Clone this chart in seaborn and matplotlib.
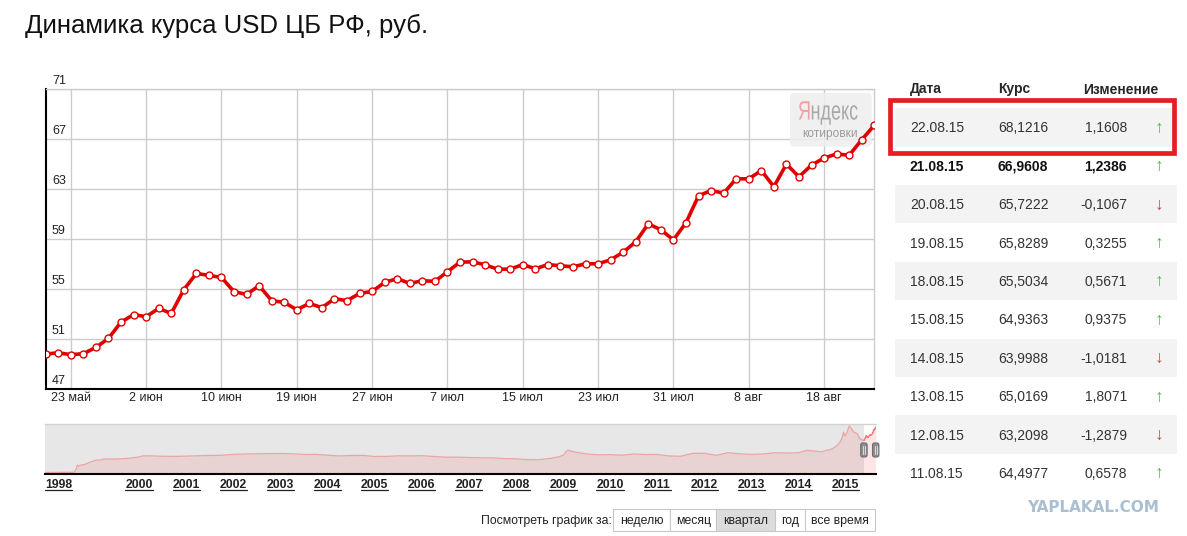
import matplotlib
matplotlib.use("Agg")
import matplotlib.pyplot as plt
from matplotlib.patches import Rectangle, FancyBboxPatch, PathPatch
from matplotlib.textpath import TextPath
from matplotlib.font_manager import FontProperties
from matplotlib.transforms import Affine2D
import numpy as np
import pandas as pd
import seaborn as sns

W, H = 1187, 536
RED = "#e10000"

# USD rate of the CBR, one value per official date, 22 May - 22 Aug 2015
rates = [49.82, 49.92, 49.77, 49.85, 50.35, 51.07, 52.38, 52.97, 52.81, 53.47,
         53.07, 54.97, 56.27, 56.11, 55.95, 54.81, 54.59, 55.29, 54.09, 53.95,
         53.37, 53.87, 53.53, 54.25, 54.09, 54.67, 54.83, 55.55, 55.85, 55.47,
         55.69, 55.63, 56.41, 57.17, 57.20, 56.96, 56.61, 56.61, 56.98, 56.64,
         56.98, 56.88, 56.80, 57.04, 57.04, 57.36, 57.97, 58.80, 60.24, 59.76,
         58.96, 60.32, 62.48, 62.90, 62.69, 63.84, 63.84, 64.4977, 63.2098, 65.0169,
         63.9988, 64.9363, 65.5034, 65.8289, 65.7222, 66.9608, 68.1216]
tick_pos = [2, 8, 14, 20, 26, 32, 38, 44, 50, 56, 62]
tick_labels = ["23 май", "2 июн", "10 июн", "19 июн", "27 июн", "7 июл",
               "15 июл", "23 июл", "31 июл", "8 авг", "18 авг"]
y_ticks = [47, 51, 55, 59, 63, 67, 71]

# history strip 1998 - 2015
hist_year = [1998.00, 1998.25, 1998.50, 1998.62, 1998.64, 1998.67, 1998.69, 1998.72,
             1998.75, 1998.83, 1998.92, 1999.00, 1999.08, 1999.17, 1999.25, 1999.50,
             1999.75, 2000.00, 2000.08, 2000.25, 2000.50, 2000.75, 2001.00, 2001.25,
             2001.50, 2001.75, 2002.00, 2002.25, 2002.50, 2002.75, 2003.00, 2003.25,
             2003.50, 2003.75, 2004.00, 2004.25, 2004.50, 2004.75, 2005.00, 2005.25,
             2005.50, 2005.75, 2006.00, 2006.25, 2006.50, 2006.75, 2007.00, 2007.25,
             2007.50, 2007.75, 2008.00, 2008.25, 2008.50, 2008.75, 2008.92, 2009.00,
             2009.10, 2009.25, 2009.50, 2009.75, 2010.00, 2010.25, 2010.50, 2010.75,
             2011.00, 2011.25, 2011.50, 2011.75, 2012.00, 2012.25, 2012.50, 2012.75,
             2013.00, 2013.25, 2013.50, 2013.75, 2014.00, 2014.17, 2014.25, 2014.42,
             2014.50, 2014.58, 2014.67, 2014.75, 2014.83, 2014.88, 2014.92, 2014.96,
             2014.98, 2015.00, 2015.04, 2015.08, 2015.13, 2015.17, 2015.25, 2015.30,
             2015.36, 2015.39]
hist_rate = [5.96, 6.10, 6.22, 6.30, 7.9, 12.5, 16.0, 14.5,
             16.0, 16.5, 19.0, 21.0, 22.6, 22.9, 24.2, 24.2,
             25.1, 27.0, 28.6, 28.5, 28.0, 27.8, 28.2, 28.7,
             29.1, 29.4, 30.5, 31.1, 31.4, 31.6, 31.8, 31.4,
             30.4, 30.6, 29.4, 28.5, 29.0, 29.2, 27.7, 27.8,
             28.6, 28.5, 28.8, 27.7, 26.8, 26.8, 26.3, 26.0,
             25.8, 24.9, 24.5, 23.5, 23.4, 25.3, 27.5, 29.4,
             36.4, 33.8, 31.1, 30.0, 30.2, 29.4, 31.1, 30.4,
             30.5, 28.4, 28.0, 31.9, 32.2, 29.3, 32.8, 31.4,
             30.4, 31.1, 32.7, 32.4, 32.7, 36.0, 35.7, 34.5,
             34.0, 35.8, 37.0, 39.4, 43.4, 47.0, 52.0, 61.0,
             56.0, 56.2, 62.5, 69.3, 65.0, 61.0, 58.5, 52.0,
             50.0, 49.8]
sel_start, sel_end = 2015.39, 2015.64
nav_years = [1998] + list(range(2000, 2016))

# table on the right
tbl_dates = ["22.08.15", "21.08.15", "20.08.15", "19.08.15", "18.08.15",
             "15.08.15", "14.08.15", "13.08.15", "12.08.15", "11.08.15"]
tbl_rates = ["68,1216", "66,9608", "65,7222", "65,8289", "65,5034",
             "64,9363", "63,9988", "65,0169", "63,2098", "64,4977"]
tbl_changes = ["1,1608", "1,2386", "-0,1067", "0,3255", "0,5671",
               "0,9375", "-1,0181", "1,8071", "-1,2879", "0,6578"]
bold_row = 1

periods = ["неделю", "месяц", "квартал", "год", "все время"]
active_period = "квартал"

sns.set_style("white")
plt.rcParams["font.family"] = ["Liberation Sans", "DejaVu Sans"]

fig = plt.figure(figsize=(W / 100, H / 100), dpi=100)


def rect(left, top, right, bottom):
    return [left / W, 1 - bottom / H, (right - left) / W, (bottom - top) / H]


# overlay in picture pixels for texts, table and frames
ov = fig.add_axes([0, 0, 1, 1], zorder=3)
ov.set_xlim(0, W)
ov.set_ylim(H, 0)
ov.axis("off")

ov.text(25, 33.5, "Динамика курса USD ЦБ РФ, руб.", fontsize=18.5,
        color="#111111", va="baseline")

# main chart
ax = fig.add_axes(rect(45.7, 89.3, 874.3, 389.3), zorder=1)
df = pd.DataFrame({"day": np.arange(len(rates)), "rate": rates})
sns.lineplot(data=df, x="day", y="rate", ax=ax, color=RED, linewidth=2.6,
             marker="o", markersize=5, markerfacecolor="white",
             markeredgecolor=RED, markeredgewidth=1.0, zorder=3)
ax.set_xlim(0, len(rates) - 1)
ax.set_ylim(y_ticks[0], y_ticks[-1])
ax.set_xticks(tick_pos, tick_labels)
ax.set_yticks(y_ticks)
ax.tick_params(axis="both", length=0)
ax.tick_params(axis="y", labelleft=False)
ax.tick_params(axis="x", pad=2, labelsize=9, labelcolor="#222222")
ax.grid(True, color="#cccccc", linewidth=1)
ax.set_axisbelow(True)
ax.set_xlabel("")
ax.set_ylabel("")
for s in ["top", "right"]:
    ax.spines[s].set_color("#cccccc")
    ax.spines[s].set_linewidth(1)
for s in ["left", "bottom"]:
    ax.spines[s].set_color("black")
    ax.spines[s].set_linewidth(1.5)
for v in y_ticks:
    ax.annotate(str(v), xy=(0, v), xycoords=("axes fraction", "data"),
                xytext=(6.3, 5.6), textcoords="offset pixels", fontsize=9,
                color="#222222", va="baseline", annotation_clip=False)

# yandex badge (between grid and line), condensed letters
ax.add_patch(FancyBboxPatch((790, 92.7), 81.7, 54,
                            boxstyle="round,pad=0,rounding_size=5",
                            transform=ov.transData, fc="#eeeeee", ec="none",
                            alpha=0.85, zorder=1))
fp = FontProperties(family="Liberation Sans")
logo_x = 798
for part, col in (("Я", "#f0a0a0"), ("ндекс", "#a8a8a8")):
    tp = TextPath((0, 0), part, size=26.5, prop=fp)
    wpart = tp.get_extents().x1
    tr = Affine2D().scale(0.68, -1).translate(logo_x, 119.5) + ov.transData
    ax.add_patch(PathPatch(tp, transform=tr, fc=col, ec="none", zorder=1.5))
    logo_x += wpart * 0.68 + 1
ax.text(830, 137.5, "котировки", transform=ov.transData, fontsize=8.6,
        color="#9a9a9a", ha="center", va="baseline", zorder=1.5)

# history navigator
nav = fig.add_axes(rect(45, 424.3, 875.7, 473.8), zorder=1)
nav.set_facecolor("#e7e7e7")
nav.set_xlim(hist_year[0], sel_end)
nav.set_ylim(4.2, 71.4)
nav.axvspan(sel_start, sel_end, color="white", lw=0, zorder=0.5)
nav.fill_between(hist_year, hist_rate, 4.2, color=(0.94, 0.5, 0.5, 0.2), lw=0)
sns.lineplot(x=hist_year, y=hist_rate, ax=nav, color="#eaa5a5", linewidth=0.9)
sel_x = np.linspace(sel_start, sel_end, len(rates))
nav.fill_between(sel_x, rates, 4.2, color=(0.97, 0.55, 0.55, 0.22), lw=0)
nav.plot(sel_x, rates, color="#f07c7c", lw=0.9)
nav.set_xticks([])
nav.set_yticks([])
nav.set_xlabel("")
nav.set_ylabel("")
for s in ["left", "right"]:
    nav.spines[s].set_visible(False)
nav.spines["top"].set_color("#d2d2d2")
nav.spines["top"].set_linewidth(1)
nav.spines["bottom"].set_color("black")
nav.spines["bottom"].set_linewidth(1.5)

year_texts = []
for i, yr in enumerate(nav_years):
    t = nav.annotate(str(yr), xy=(yr, 0), xycoords=("data", "axes fraction"),
                     xytext=(0, -14.3), textcoords="offset pixels",
                     ha="left" if i == 0 else "center", va="baseline",
                     fontsize=8.8, fontweight="bold", color="#222222",
                     annotation_clip=False)
    year_texts.append(t)

# selection handles
for xs in (sel_start, sel_end):
    px = nav.transData.transform((xs, 0))[0]
    ov.add_patch(FancyBboxPatch((px - 3.2, 443), 6.4, 14,
                                boxstyle="round,pad=0,rounding_size=2",
                                fc="#8c8c8c", ec="#6e6e6e", lw=0.8))
    for dx in (-1.2, 1.2):
        ov.plot([px + dx, px + dx], [446, 454], color="#d8d8d8", lw=0.8)

# period buttons
ov.text(612, 524, "Посмотреть график за:", fontsize=8.8, color="#222222",
        ha="right", va="baseline")
edges = [613, 670.4, 716, 775.4, 805, 874.5]
for i, p in enumerate(periods):
    fc = "#dcdcdc" if p == active_period else "white"
    ov.add_patch(Rectangle((edges[i], 509.3), edges[i + 1] - edges[i], 21.4,
                           fc=fc, ec="#c8c8c8", lw=0.8))
    ov.text((edges[i] + edges[i + 1]) / 2, 524, p, fontsize=8.8,
            color="#222222", ha="center", va="baseline")

# table
ov.text(910, 93.5, "Дата", fontsize=10, fontweight="bold", va="baseline")
ov.text(998, 93.5, "Курс", fontsize=10, fontweight="bold", va="baseline")
ov.text(1083, 93.5, "Изменение", fontsize=10, fontweight="bold", va="baseline")
for i, (d, r, c) in enumerate(zip(tbl_dates, tbl_rates, tbl_changes)):
    yc = 127.3 + 38.4 * i
    if i % 2 == 0:
        ov.add_patch(Rectangle((895, yc - 19.2), 282, 38.4, fc="#f3f3f3",
                               ec="none", zorder=0))
    w = "bold" if i == bold_row else "normal"
    col = "#111111" if i == bold_row else "#333333"
    ov.text(910, yc + 5, d, fontsize=10, fontweight=w, color=col, va="baseline")
    ov.text(998, yc + 5, r, fontsize=10, fontweight=w, color=col, va="baseline")
    ov.text(1127, yc + 5, c, fontsize=10, fontweight=w, color=col,
            ha="right", va="baseline")
    up = not c.startswith("-")
    ov.text(1159, yc + 1, "↑" if up else "↓", fontsize=12.5,
            color="#3cc43c" if up else "#e03c3c", ha="center", va="center")

ov.add_patch(Rectangle((889.6, 100), 284.8, 52.7, fc="none", ec="#e31e24",
                       lw=3.4, zorder=4))

ov.text(1093, 511.5, "YAPLAKAL.COM", family="DejaVu Sans", fontsize=11,
        fontweight="heavy", color="#aabfd0", ha="center", va="baseline")

# underline the year links
fig.canvas.draw()
renderer = fig.canvas.get_renderer()
for t in year_texts:
    bb = t.get_window_extent(renderer)
    ov.plot([bb.x0, bb.x1], [489.8, 489.8], color="#222222", lw=0.9)

fig.savefig("out.png", dpi=100)
